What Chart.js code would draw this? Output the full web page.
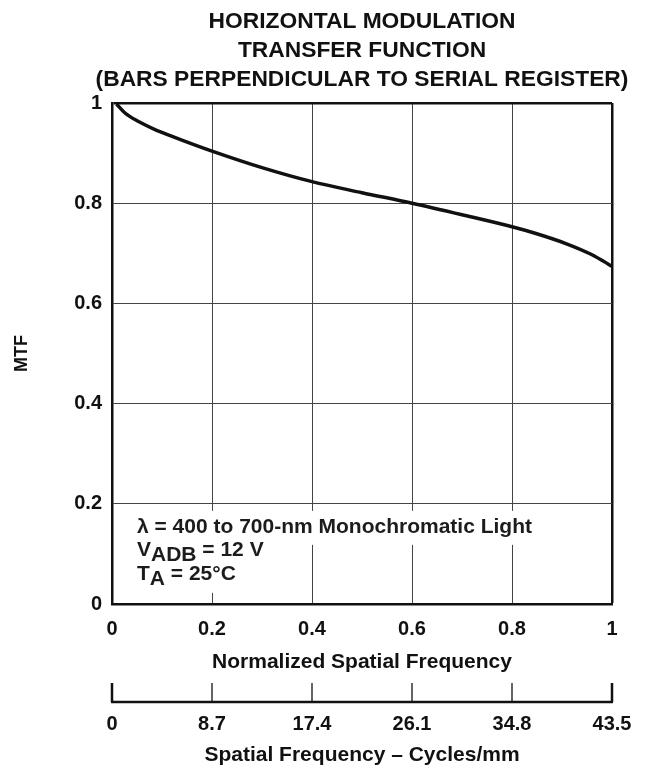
<!DOCTYPE html>
<html lang="en">
<head>
<meta charset="UTF-8">
<title>Horizontal Modulation Transfer Function</title>
<script src="https://cdn.jsdelivr.net/npm/chart.js"></script>
<style>
  html, body { margin: 0; padding: 0; background: #fff; }
  canvas { display: block; }
</style>
</head>
<body>
<canvas id="mtfChart" width="656" height="771"></canvas>
<script>
// chart data
const titleLines = ['HORIZONTAL MODULATION', 'TRANSFER FUNCTION', '(BARS PERPENDICULAR TO SERIAL REGISTER)'];
const normFreq = [0.009, 0.026, 0.053, 0.086, 0.119, 0.153, 0.2, 0.3, 0.4, 0.5, 0.6, 0.7, 0.8, 0.843, 0.909, 0.956, 0.983, 1.0];
const mtfValues = [0.998, 0.980, 0.963, 0.947, 0.934, 0.921, 0.904, 0.871, 0.843, 0.821, 0.800, 0.777, 0.753, 0.741, 0.719, 0.699, 0.684, 0.674];
const normTicks = [0, 0.2, 0.4, 0.6, 0.8, 1];
const mtfTicks = [0, 0.2, 0.4, 0.6, 0.8, 1];
const cyclesTicks = [0, 8.7, 17.4, 26.1, 34.8, 43.5];
const noteLines = ['\u03bb = 400 to 700-nm Monochromatic Light', ['V', 'ADB', ' = 12 V'], ['T', 'A', ' = 25\u00b0C']];

const FONT = "'Liberation Sans', Arial, Helvetica, sans-serif";
const INK = '#111';

function frameColor(ctx) {
  return ctx.tick && ctx.tick.value === 1 ? INK : '#444';
}
function frameWidth(ctx) {
  return ctx.tick && ctx.tick.value === 1 ? 2.5 : 1;
}
function fixedTicks(list) {
  return function (scale) { scale.ticks = list.map(v => ({ value: v })); };
}
function fixedHeight(h) {
  return function (scale) {
    scale.height = h;
    scale.paddingLeft = 0;
    scale.paddingRight = 0;
  };
}

// three-line heading centred over the plot
const titlePlugin = {
  id: 'stackTitle',
  afterDraw(chart) {
    const { ctx, chartArea } = chart;
    const cx = (chartArea.left + chartArea.right) / 2;
    ctx.save();
    ctx.font = 'bold 22.8px ' + FONT;
    ctx.fillStyle = INK;
    ctx.textAlign = 'center';
    ctx.textBaseline = 'alphabetic';
    titleLines.forEach((t, i) => ctx.fillText(t, cx, 28 + i * 29));
    ctx.restore();
  }
};

// test-condition note in the lower left of the plot
const notePlugin = {
  id: 'conditions',
  beforeDatasetsDraw(chart) {
    const { ctx } = chart;
    const xs = chart.scales.x, ys = chart.scales.y;
    const x0 = xs.getPixelForValue(0.05);
    const base = ys.getPixelForValue(0.142);
    const step = 23.5;
    ctx.save();
    ctx.font = 'bold 21px ' + FONT;
    const w1 = ctx.measureText(noteLines[0]).width;
    const w2 = ctx.measureText(noteLines[1].join('')).width;
    ctx.fillStyle = '#fff';
    ctx.fillRect(x0 - 7, base - 22, w1 + 14, 34);
    ctx.fillRect(x0 - 7, base + 12, w2 + 10, step * 2 + 1);
    ctx.fillStyle = '#1c1c1c';
    ctx.textBaseline = 'alphabetic';
    ctx.fillText(noteLines[0], x0, base);
    [noteLines[1], noteLines[2]].forEach((parts, i) => {
      const y = base + step * (i + 1);
      let x = x0;
      ctx.fillText(parts[0], x, y);
      x += ctx.measureText(parts[0]).width;
      ctx.fillText(parts[1], x, y + 5);
      x += ctx.measureText(parts[1]).width;
      ctx.fillText(parts[2], x, y);
    });
    ctx.restore();
  }
};

// second frequency axis: baseline with upward tick marks
const cyclesAxisPlugin = {
  id: 'cyclesAxis',
  afterDraw(chart) {
    const { ctx } = chart;
    const x2 = chart.scales.x2;
    const yLine = x2.top + 24;
    ctx.save();
    ctx.strokeStyle = INK;
    ctx.lineWidth = 2.5;
    ctx.beginPath();
    ctx.moveTo(x2.left - 1, yLine);
    ctx.lineTo(x2.right + 1, yLine);
    ctx.stroke();
    cyclesTicks.forEach((v, i) => {
      const px = x2.getPixelForValue(v);
      ctx.lineWidth = (i === 0 || i === cyclesTicks.length - 1) ? 2.5 : 1.3;
      ctx.beginPath();
      ctx.moveTo(px, yLine);
      ctx.lineTo(px, yLine - 19);
      ctx.stroke();
    });
    ctx.restore();
  }
};

new Chart(document.getElementById('mtfChart'), {
  type: 'line',
  data: {
    datasets: [{
      data: normFreq.map((x, i) => ({ x: x, y: mtfValues[i] })),
      borderColor: INK,
      borderWidth: 3.5,
      pointRadius: 0,
      fill: false,
      cubicInterpolationMode: 'monotone'
    }]
  },
  options: {
    responsive: false,
    animation: false,
    layout: { padding: { top: 103, right: 44, bottom: 0, left: 0 } },
    plugins: {
      legend: { display: false },
      tooltip: { enabled: false },
      title: { display: false }
    },
    scales: {
      x: {
        type: 'linear',
        position: 'bottom',
        weight: 0,
        min: 0,
        max: 1,
        afterBuildTicks: fixedTicks(normTicks),
        afterFit: fixedHeight(74),
        grid: { color: frameColor, lineWidth: frameWidth, drawTicks: false },
        border: { color: INK, width: 2.5 },
        ticks: {
          padding: 13,
          color: INK,
          font: { family: FONT, size: 20, weight: 'bold' },
          callback: v => String(v)
        },
        title: {
          display: true,
          text: 'Normalized Spatial Frequency',
          color: INK,
          font: { family: FONT, size: 21, weight: 'bold' },
          padding: { top: 0, bottom: 3 }
        }
      },
      x2: {
        type: 'linear',
        position: 'bottom',
        weight: 1,
        min: 0,
        max: 43.5,
        afterBuildTicks: fixedTicks(cyclesTicks),
        afterFit: fixedHeight(93),
        grid: { display: false },
        border: { display: false },
        ticks: {
          padding: 26.5,
          color: INK,
          font: { family: FONT, size: 20, weight: 'bold' },
          callback: v => String(v)
        },
        title: {
          display: true,
          text: 'Spatial Frequency \u2013 Cycles/mm',
          color: INK,
          font: { family: FONT, size: 21, weight: 'bold' },
          padding: { top: 0, bottom: 3 }
        }
      },
      y: {
        type: 'linear',
        min: 0,
        max: 1,
        afterBuildTicks: fixedTicks(mtfTicks),
        afterFit(s) { s.width = 112; },
        grid: { color: frameColor, lineWidth: frameWidth, drawTicks: false },
        border: { color: INK, width: 2.5 },
        ticks: {
          padding: 10,
          color: INK,
          font: { family: FONT, size: 20, weight: 'bold' },
          callback: v => String(v)
        },
        title: {
          display: true,
          text: 'MTF',
          color: INK,
          font: { family: FONT, size: 18, weight: 'bold' },
          padding: { top: 11, bottom: 0 }
        }
      }
    }
  },
  plugins: [titlePlugin, notePlugin, cyclesAxisPlugin]
});
</script>
</body>
</html>
